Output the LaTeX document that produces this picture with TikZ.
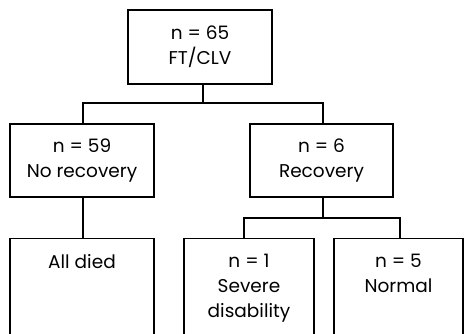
\documentclass[tikz,border=0pt]{standalone}
\usepackage{fontspec}
\setmainfont{Poppins}
\begin{document}
\begin{tikzpicture}[x=1pt,y=-1pt,
  box/.style={draw=black, line width=1.2pt, fill=white, inner sep=0pt},
  lbl/.style={align=center, inner sep=0pt, font=\fontsize{18.5}{25}\selectfont},
  conn/.style={draw=black, line width=1.2pt}]
\useasboundingbox (0,0) rectangle (464,333);
% top
\node[box, minimum width=144pt, minimum height=74pt] (top) at (200,47) {};
\node[lbl] (toptxt) at (top.center) {n = 65\\FT/CLV};
% level 2
\node[box, minimum width=144pt, minimum height=73pt] (norec) at (82,160.5) {};
\node[lbl] (noretxt) at (norec.center) {n = 59\\No recovery};
\node[box, minimum width=143pt, minimum height=73pt] (rec) at (321.5,160.5) {};
\node[lbl] (rectxt) at (rec.center) {n = 6\\Recovery};
% level 3
\node[box, minimum width=144pt, minimum height=110pt, anchor=north] (died) at (82,238) {};
\node[lbl, anchor=center] (diedtxt) at ([yshift=-24pt]died.north) {All died};
\node[box, minimum width=130pt, minimum height=110pt, anchor=north] (sev) at (249,238) {};
\node[lbl, anchor=north] (sevtxt) at ([yshift=-16pt]sev.north) {n = 1\\Severe\\disability};
\node[box, minimum width=129pt, minimum height=110pt, anchor=north] (norm) at (398.5,238) {};
\node[lbl, anchor=north] (normtxt) at ([yshift=-16pt]norm.north) {n = 5\\Normal};
% connectors
\coordinate (j1) at (203,103);
\coordinate (j2) at (323,218);
\draw[conn] ([xshift=3pt]top.south) -- (j1);
\draw[conn] ([xshift=1pt]norec.north) |- (j1) -| ([xshift=1.5pt]rec.north);
\draw[conn] ([xshift=1pt]norec.south) -- ([xshift=1pt]died.north);
\draw[conn] ([xshift=1.5pt]rec.south) -- (j2);
\draw[conn] ([xshift=-5pt]sev.north) |- (j2) -| ([xshift=1.5pt]norm.north);
\end{tikzpicture}
\end{document}
